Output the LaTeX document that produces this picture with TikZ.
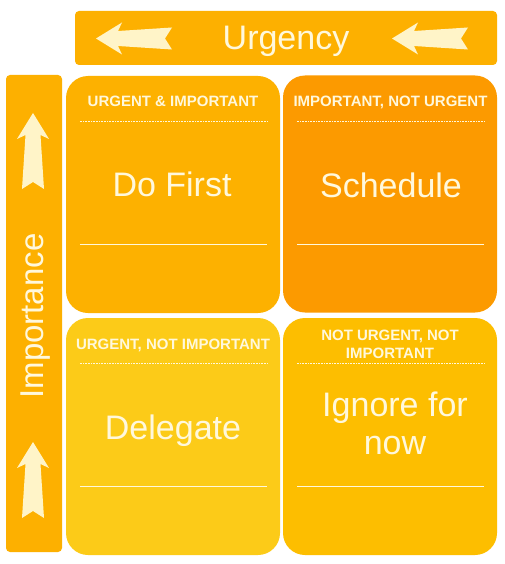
\documentclass[tikz,border=0pt]{standalone}
\usepackage{fontspec}
\setmainfont{Liberation Sans}
\usetikzlibrary{calc}
\definecolor{cbar}{RGB}{253,176,0}
\definecolor{cTL}{RGB}{253,177,0}
\definecolor{cTR}{RGB}{252,154,0}
\definecolor{cBL}{RGB}{252,203,24}
\definecolor{cBR}{RGB}{253,190,0}
\definecolor{ctext}{RGB}{255,248,220}
\definecolor{carrow}{RGB}{255,244,200}
\tikzset{
  bar/.style={draw=none, fill=cbar, rounded corners=4pt, inner sep=0pt},
  quad/.style={draw=none, rounded corners=22pt, inner sep=0pt, minimum width=214pt, minimum height=237pt},
  hdr/.style={text=ctext, font=\bfseries\fontsize{15}{18}\selectfont, anchor=base, inner sep=0pt, align=center},
  big/.style={text=ctext, font=\fontsize{34}{38}\selectfont, anchor=base, inner sep=0pt, align=center},
  sepline/.style={draw=ctext, line width=0.8pt},
  sepdot/.style={draw=ctext, line width=0.8pt, dash pattern=on 1pt off 0.6pt},
  arrowshape/.pic={
    \fill[carrow] (0,0) -- (26,-16) -- (22,-7.5) -- (76,-11) -- (69,0) -- (76,11) -- (22,7.5) -- (26,16) -- cycle;
  }
}
\begin{document}
\begin{tikzpicture}[x=1pt,y=-1pt]
\useasboundingbox[fill=white] (0,0) rectangle (504,564);
% bars
\node[bar, minimum width=422pt, minimum height=54pt] (topbar) at (286,38) {};
\node[bar, minimum width=56pt, minimum height=477pt] (leftbar) at (34,313.5) {};
% arrows
\pic at (96,38.5) {arrowshape};
\pic at (392,38.5) {arrowshape};
\pic[rotate=-90] at (33,113) {arrowshape};
\pic[rotate=-90] at (33,442) {arrowshape};
% axis labels
\node[big, font=\fontsize{34}{38}\selectfont] (urg) at (286,50) {Urgency};
\node[big, font=\fontsize{33}{38}\selectfont, rotate=90] (imp) at (43,316) {Importance};
% quadrants
\node[quad, fill=cTL] (q1) at (173,194.5) {};
\node[quad, fill=cTR] (q2) at (390,194) {};
\node[quad, fill=cBL] (q3) at (173,436.5) {};
\node[quad, fill=cBR] (q4) at (390,436.5) {};
% separator lines
\foreach \q in {q1,q2,q3,q4}{
  \draw[sepdot] ($(\q.north west)+(14,46)$) -- ($(\q.north east)+(-13,46)$);
  \draw[sepline] ($(\q.north west)+(14,169)$) -- ($(\q.north east)+(-13,169)$);
}
% headers
\node[hdr] (h1) at (173,107) {URGENT \& IMPORTANT};
\node[hdr] (h2) at (390.5,107) {IMPORTANT, NOT URGENT};
\node[hdr] (h3) at (173,349) {URGENT, NOT IMPORTANT};
\node[hdr] (h4a) at (390,340) {NOT URGENT, NOT};
\node[hdr] (h4b) at (390,358) {IMPORTANT};
% main texts
\node[big] (t1) at (172,196) {Do First};
\node[big] (t2) at (391,197) {Schedule};
\node[big] (t3) at (173,439) {Delegate};
\node[big] (t4a) at (395,416) {Ignore for};
\node[big] (t4b) at (395,454) {now};
\end{tikzpicture}
\end{document}
